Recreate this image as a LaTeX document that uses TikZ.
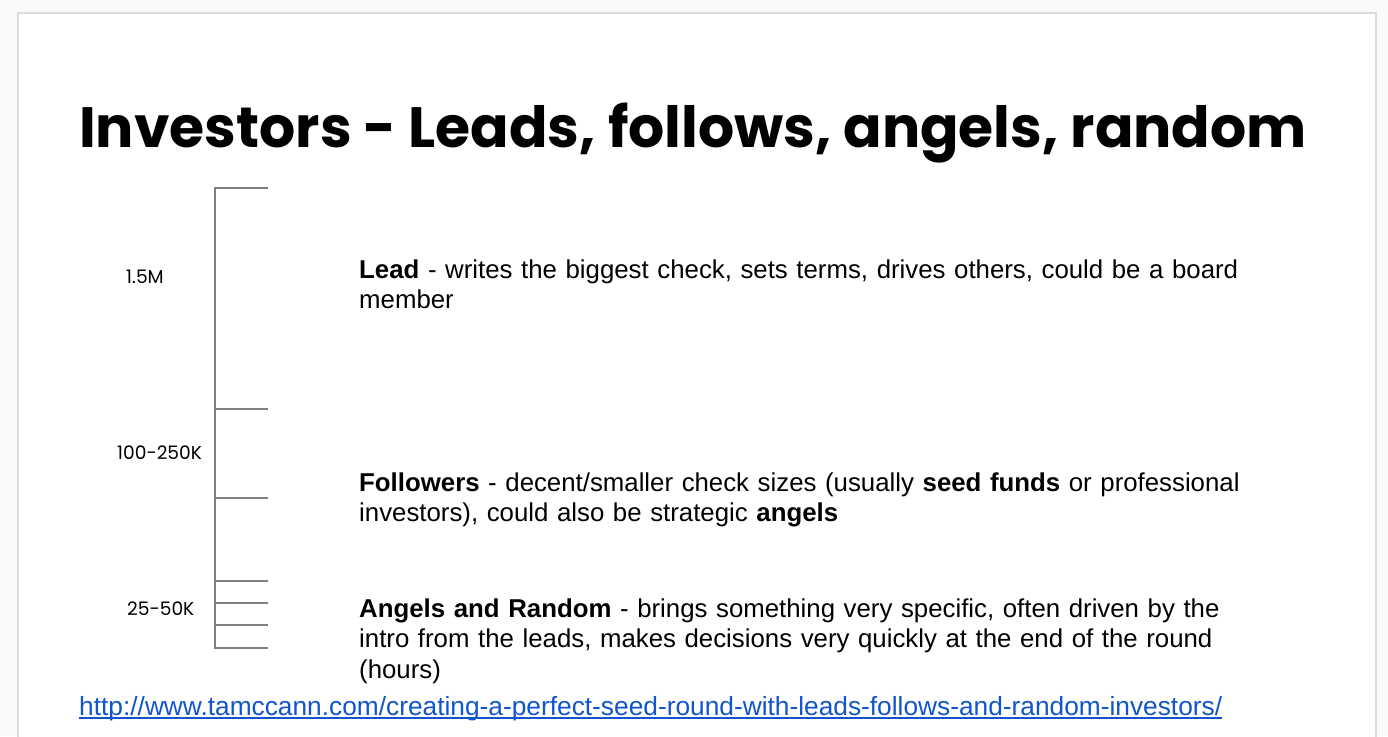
\documentclass[tikz,border=0pt]{standalone}
\usepackage{fontspec}
\setmainfont{Liberation Sans}
\newfontfamily\titlefont{Poppins}
\newfontfamily\amountfont{Poppins}
\definecolor{pagegray}{HTML}{F8F9FA}
\definecolor{framegray}{HTML}{DADCE0}
\definecolor{tickgray}{HTML}{7F7F7F}
\definecolor{linkblue}{HTML}{1155CC}
\tikzset{
  amount/.style={anchor=base west, inner sep=0pt, font=\amountfont\fontsize{18.6}{22}\selectfont},
  blurb/.style={anchor=base west, inner sep=0pt, text width=1000pt, align=left,
    font=\fontsize{25.8}{30.5}\selectfont},
}
\begin{document}
\begin{tikzpicture}[x=1pt, y=-1pt]
\useasboundingbox (0,0) rectangle (1388,736);
\fill[pagegray](0,0) rectangle (1388,736);
\draw[framegray, fill=white, line width=1.2pt](18,13) rectangle (1376,760);

\node (title) at (79,147)[anchor=base west, inner sep=0pt,
  font=\titlefont\bfseries\fontsize{56.8}{60}\selectfont]{Investors - Leads, follows, angels, random};

% scale of check sizes
\draw[tickgray, line width=1.5pt](268,188)--(215,188)--(215,648)--(268,648);
\foreach \y in {409,498,581,603,625}
  \draw[tickgray, line width=1.5pt](215,\y)--(268,\y);

\node (big) at (126,283)[amount]{1.5M};
\node (mid) at (117,459)[amount]{100-250K};
\node (small) at (127,615)[amount]{25-50K};

\node (lead) at (359,278)[blurb]{\textbf{Lead} - writes the biggest check, sets terms, drives others, could be a board\\
member};
\node (follow) at (359,491)[blurb]{\textbf{Followers} - decent/smaller check sizes (usually \textbf{seed funds} or professional\\
investors), could also be strategic \textbf{angels}};
\node (angel) at (359,617)[blurb]{\textbf{Angels and Random} - brings something very specific, often driven by the\\
intro from the leads, makes decisions very quickly at the end of the round\\
(hours)};

\node (link) at (79,715)[anchor=base west, inner sep=0pt, text=linkblue,
  font=\fontsize{26.3}{30}\selectfont]{http://www.tamccann.com/creating-a-perfect-seed-round-with-leads-follows-and-random-investors/};
\draw[linkblue, line width=1.2pt](link.base west)++(0,3)--([yshift=-3pt]link.base east);
\end{tikzpicture}
\end{document}
